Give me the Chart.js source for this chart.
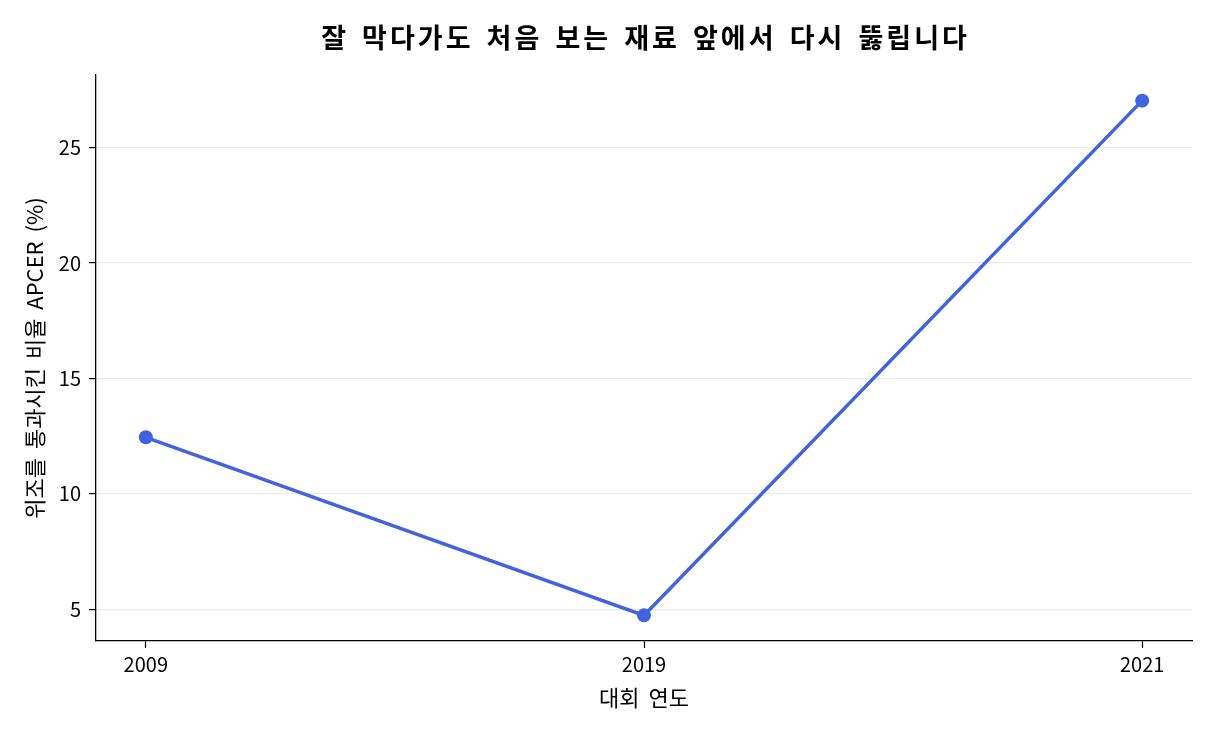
<!DOCTYPE html>
<html>
<head>
<meta charset="utf-8">
<script src="https://cdn.jsdelivr.net/npm/chart.js@4"></script>
<style>
html,body{margin:0;padding:0;background:#fff;}
#wrap{width:1216px;height:736px;}
</style>
</head>
<body>
<div id="wrap"><canvas id="c" width="1216" height="736"></canvas></div>
<script>
const titleText = '잘 막다가도 처음 보는 재료 앞에서 다시 뚫립니다';
const xTitle = '대회 연도';
const yTitle = '위조를 통과시킨 비율 APCER (%)';
const years = ['2009', '2019', '2021'];
const apcer = [12.45, 4.74, 27.03];
const yTicks = [5, 10, 15, 20, 25];

const FONT = '"Noto Sans CJK KR", "Noto Sans", sans-serif';
const color = '#4163DD';

const textSpacing = {
  id: 'textSpacing',
  beforeDraw(chart) {
    chart.ctx.wordSpacing = '4px';
  },
  afterDraw(chart) {
    const ctx = chart.ctx;
    ctx.save();
    ctx.font = 'bold 27px ' + FONT;
    ctx.fillStyle = '#000';
    ctx.textAlign = 'center';
    ctx.textBaseline = 'middle';
    ctx.letterSpacing = '3px';
    ctx.wordSpacing = '4px';
    ctx.fillText(titleText, (chart.chartArea.left + chart.chartArea.right) / 2 + 1.5, 38);
    ctx.restore();
    ctx.wordSpacing = '0px';
  }
};

new Chart(document.getElementById('c'), {
  type: 'line',
  data: {
    datasets: [{
      data: apcer.map((v, i) => ({x: i, y: v})),
      borderColor: color,
      backgroundColor: color,
      borderWidth: 3.5,
      pointRadius: 7,
      pointHoverRadius: 7,
      pointBorderWidth: 0,
      tension: 0
    }]
  },
  plugins: [textSpacing],
  options: {
    responsive: false,
    animation: false,
    devicePixelRatio: 1,
    layout: {padding: {left: 0, right: 24, top: 75, bottom: 0}},
    plugins: {
      legend: {display: false},
      tooltip: {enabled: false},
      title: {display: false}
    },
    scales: {
      x: {
        type: 'linear',
        min: -0.1,
        max: 2.1,
        afterBuildTicks: s => { s.ticks = years.map((_, i) => ({value: i})); },
        afterFit: s => { s.height = 95; },
        ticks: {
          callback: v => years[v],
          color: '#000',
          font: {family: FONT, size: 20},
          padding: 4,
          maxRotation: 0
        },
        grid: {drawOnChartArea: false, tickColor: '#000', tickLength: 7, tickWidth: 1.2},
        border: {color: '#000', width: 1.3},
        title: {display: true, text: xTitle, color: '#000', font: {family: FONT, size: 22}, padding: {top: 0, bottom: 25}}
      },
      y: {
        min: 3.63,
        max: 28.14,
        afterBuildTicks: s => { s.ticks = yTicks.map(v => ({value: v})); },
        afterFit: s => { s.width = 96; },
        ticks: {
          color: '#000',
          font: {family: FONT, size: 20},
          padding: 8
        },
        grid: {color: '#ebebeb', lineWidth: 1.2, tickColor: '#000', tickLength: 7, tickWidth: 1.2},
        border: {color: '#000', width: 1.3},
        title: {display: true, text: yTitle, color: '#000', font: {family: FONT, size: 22}, padding: {top: 21, bottom: 0}}
      }
    }
  }
});
</script>
</body>
</html>
